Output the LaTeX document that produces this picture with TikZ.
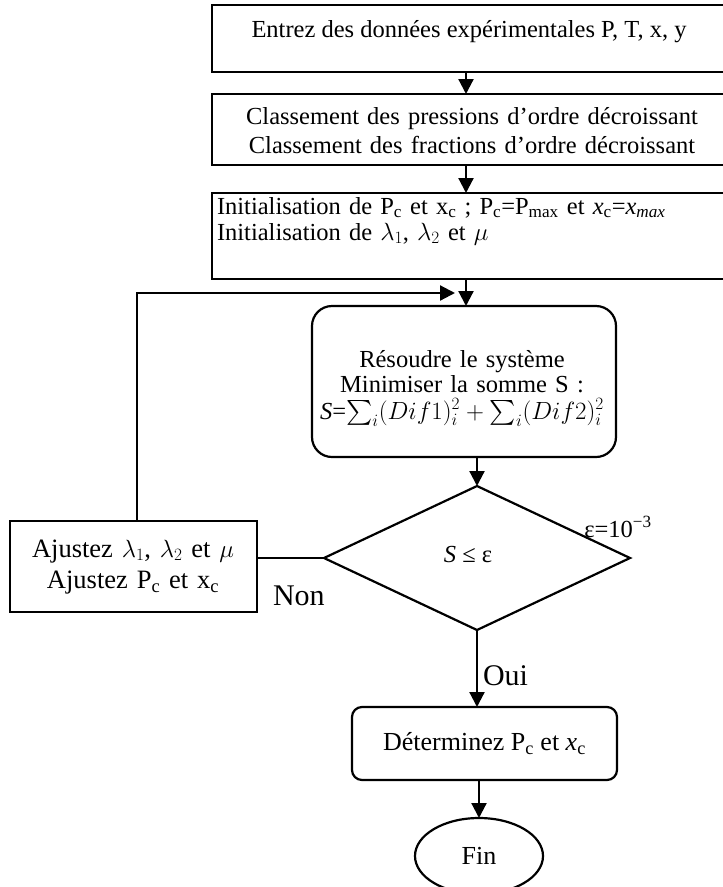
\documentclass[tikz,border=0pt]{standalone}
\usepackage{exscale}
\usepackage{fontspec}
\setmainfont{Liberation Serif}
\usetikzlibrary{arrows.meta,shapes.geometric,calc}

\begin{document}
\begin{tikzpicture}[x=1pt,y=-1pt,
  every node/.style={inner sep=0pt, outer sep=0pt},
  box/.style={draw, line width=2.2pt},
  rbox/.style={box, rounded corners=20pt},
  link/.style={line width=2.2pt, -{Triangle[length=15pt,width=15pt]}},
  plain/.style={line width=2.2pt},
  txt/.style={font=\fontsize{24.5}{29}\selectfont},
  bigtxt/.style={font=\fontsize{26.5}{31}\selectfont},
  tag/.style={font=\fontsize{30}{34}\selectfont},
]
\useasboundingbox (0,0) rectangle (723,887);
\fill[white] (0,0) rectangle (723,887);
\clip (0,0) rectangle (723,887);

% column of the upper arrows and of the return line
\coordinate (col) at (466,0);
\coordinate (ret) at (137,0);
\coordinate (fb) at (455,293);

% input and sorting steps (open to the right)
\node[box, anchor=north west, minimum width=530pt, minimum height=67pt] (b1) at (212,5) {};
\node[txt, anchor=base] (t1) at (469,37) {Entrez des données expérimentales P, T, x, y};

\node[box, anchor=north west, minimum width=530pt, minimum height=71pt] (b2) at (212,94) {};
\node[txt, anchor=base, text width=500pt, align=center] (t2) at (472,124)
  {Classement des pressions d’ordre décroissant\\Classement des fractions d’ordre décroissant};

\node[box, anchor=north west, minimum width=530pt, minimum height=86pt] (b3) at (212,193) {};
\node[txt, font=\fontsize{24.5}{26}\selectfont, anchor=base west, text width=500pt, align=left] (t3) at (217,214)
  {Initialisation de P\textsubscript{c} et x\textsubscript{c} ; P\textsubscript{c}=P\textsubscript{max} et \textit{x}\textsubscript{c}=\textit{x\textsubscript{max}}\\
   Initialisation de $\lambda_1$, $\lambda_2$ et $\mu$};

% solving step
\node[rbox, anchor=north west, minimum width=304pt, minimum height=151pt] (rb) at (312,306) {};
\node[txt, font=\fontsize{24.5}{24}\selectfont, anchor=base, text width=300pt, align=center] (t4) at (462,367)
  {Résoudre le système\\[1pt]Minimiser la somme S :\\[3pt]
   \textit{S}=$\textstyle\sum_i(Dif1)_i^2+\sum_i(Dif2)_i^2$};

% convergence test
\node[draw, diamond, line width=2.2pt, minimum width=306pt, minimum height=144pt] (dia) at (477,558) {};
\node[txt, anchor=center] (cond) at (468,554) {\textit{S} ≤ ε};
\node[txt, anchor=base] (eps) at (618,537) {ε=10\textsuperscript{−3}};

% adjustment step
\node[box, anchor=north west, minimum width=247pt, minimum height=91pt] (adj) at (10,521) {};
\node[bigtxt, font=\fontsize{26.5}{31.5}\selectfont, anchor=base, text width=240pt, align=center] (t5) at (133,557)
  {Ajustez $\lambda_1$, $\lambda_2$ et $\mu$\\Ajustez P\textsubscript{c} et x\textsubscript{c}};

\node[tag, anchor=base west] (non) at (273,605) {Non};
\node[tag, anchor=base west] (oui) at (483,685) {Oui};

% result and end
\node[box, rounded corners=10pt, anchor=north west, minimum width=265pt, minimum height=73pt,
      font=\fontsize{26}{30}\selectfont] (det) at (352,707)
  {Déterminez P\textsubscript{c} et \textit{x}\textsubscript{c}};
\node[draw, ellipse, line width=2.2pt, minimum width=128pt, minimum height=76pt,
      font=\fontsize{26}{30}\selectfont] (fin) at (479,856) {Fin};

% connectors
\draw[link] (b1.south -| col) -- (b2.north -| col);
\draw[link] (b2.south -| col) -- (b3.north -| col);
\draw[link] (b3.south -| col) -- (rb.north -| col);
\draw[link] (adj.north -| ret) |- (fb);
\draw[link] (rb.south -| dia.north) -- (dia.north);
\draw[plain] (adj.east |- dia.west) -- (dia.west);
\draw[link] (dia.south) -- (det.north -| dia.south);
\draw[link] (det.south -| fin.north) -- (fin.north);
\end{tikzpicture}
\end{document}
